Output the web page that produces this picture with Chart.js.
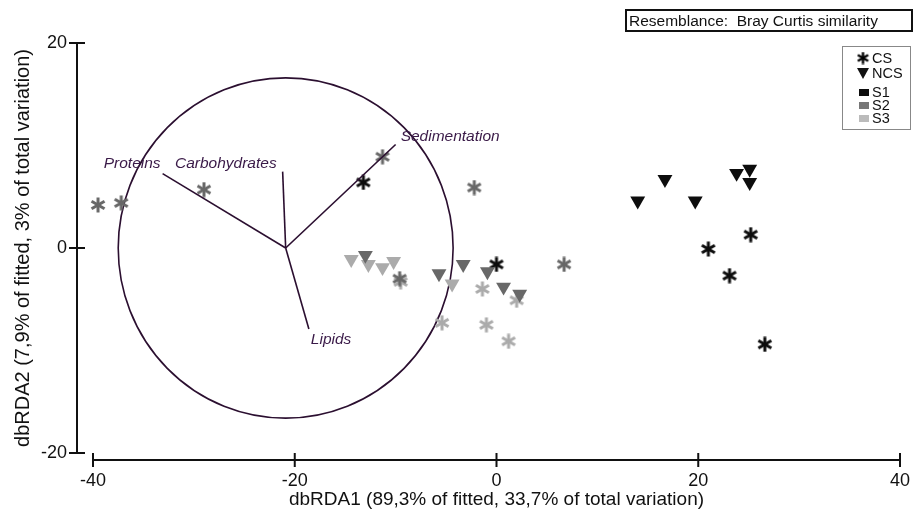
<!DOCTYPE html>
<html>
<head>
<meta charset="utf-8">
<script src="https://cdn.jsdelivr.net/npm/chart.js@4.4.1/dist/chart.umd.min.js"></script>
<style>
  html, body { margin: 0; padding: 0; background: #fff; }
  #wrap { width: 913px; height: 517px; position: relative; }
</style>
</head>
<body>
<div id="wrap"><canvas id="plot"></canvas></div>
<script>
// --- Data: [dbRDA1, dbRDA2] ---
const csS1 = [[-13.2, 6.4], [0.0, -1.6], [25.2, 1.3], [21.0, -0.1], [23.1, -2.7], [26.6, -9.4]];
const csS2 = [[-39.5, 4.2], [-37.2, 4.4], [-29.0, 5.7], [-11.3, 8.9], [-2.2, 5.9], [-9.6, -3.0], [6.7, -1.6]];
const csS3 = [[-9.5, -3.3], [2.0, -5.1], [-1.4, -4.0], [-5.4, -7.3], [-1.0, -7.5], [1.2, -9.1]];
const ncsS1 = [[14.0, 4.6], [16.7, 6.7], [19.7, 4.6], [23.8, 7.3], [25.1, 7.7], [25.1, 6.4]];
const ncsS2 = [[-13.0, -0.7], [-5.7, -2.5], [-3.3, -1.6], [-0.9, -2.3], [0.7, -3.8], [2.3, -4.5]];
const ncsS3 = [[-14.4, -1.1], [-12.7, -1.6], [-11.3, -1.9], [-10.2, -1.3], [-4.4, -3.5]];

// vector overlay (correlation circle)
const circleCentre = [-20.9, 0];
const circleRadius = 16.6;
const vectorNames = ['Proteins', 'Carbohydrates', 'Sedimentation', 'Lipids'];
const vectorX = [-33.1, -21.2, -10.0, -18.6];
const vectorY = [7.25, 7.45, 10.1, -7.9];

const xTicks = [-40, -20, 0, 20, 40];
const yTicks = [-20, 0, 20];
const legendLabels = ['CS', 'NCS', 'S1', 'S2', 'S3'];
const xTitle = 'dbRDA1 (89,3% of fitted, 33,7% of total variation)';
const yTitle = 'dbRDA2 (7,9% of fitted, 3% of total variation)';
const boxText = 'Resemblance:  Bray Curtis similarity';

// --- Styles ---
const FONT = "'Liberation Sans', Arial, sans-serif";
const COL = { s1: '#0d0d0d', s2: '#686868', s3: '#ababab', vec: '#2b0f30', vecText: '#3a1a48' };
const labelAlign = ['right', 'right', 'left', 'left'];
const labelDx = [-2, -6, 5, 2];
const labelDy = [-6, -4, -3, 15];

function makeAsterisk(color, size, lw) {
  const c = document.createElement('canvas');
  c.width = c.height = size;
  const g = c.getContext('2d');
  g.strokeStyle = color;
  g.lineWidth = lw;
  const m = size / 2, r = size / 2 - 0.5;
  for (let k = 0; k < 3; k++) {
    const a = Math.PI / 2 + k * Math.PI / 3;
    g.beginPath();
    g.moveTo(m + r * Math.cos(a), m - r * Math.sin(a));
    g.lineTo(m - r * Math.cos(a), m + r * Math.sin(a));
    g.stroke();
  }
  return c;
}

const toPts = arr => arr.map(([x, y]) => ({ x, y }));

function starSet(label, pts, color) {
  return { label, data: toPts(pts), pointStyle: makeAsterisk(color, 16, 3), pointRadius: 8, clip: false, showLine: false };
}
function triSet(label, pts, color) {
  return {
    label, data: toPts(pts), pointStyle: 'triangle', rotation: 180, pointRadius: 8.6,
    backgroundColor: color, borderColor: color, borderWidth: 0, clip: false, showLine: false,
  };
}

const vectorSets = vectorNames.map((name, i) => ({
  label: name,
  type: 'line',
  data: [{ x: circleCentre[0], y: circleCentre[1] }, { x: vectorX[i], y: vectorY[i] }],
  borderColor: COL.vec, borderWidth: 1.6, pointRadius: 0, fill: false, clip: false,
}));

// --- Overlay: circle, axes, vector labels, legend, resemblance box ---
const overlay = {
  id: 'overlay',
  beforeDatasetsDraw(chart) {
    const { ctx, scales: { x, y } } = chart;
    const cx = x.getPixelForValue(circleCentre[0]);
    const cy = y.getPixelForValue(circleCentre[1]);
    const rx = Math.abs(x.getPixelForValue(circleCentre[0] + circleRadius) - cx);
    const ry = Math.abs(y.getPixelForValue(circleCentre[1] + circleRadius) - cy);
    ctx.save();
    ctx.strokeStyle = COL.vec;
    ctx.lineWidth = 1.6;
    ctx.beginPath();
    ctx.ellipse(cx, cy, rx, ry, 0, 0, Math.PI * 2);
    ctx.stroke();
    ctx.restore();
  },
  afterDraw(chart) {
    const { ctx, chartArea: a, scales: { x, y } } = chart;
    ctx.save();
    // axes, offset from the plotting region as in the figure
    ctx.strokeStyle = '#111';
    ctx.lineWidth = 2;
    const ax = a.left - 16, ay = a.bottom + 7;
    ctx.beginPath();
    ctx.moveTo(ax, y.getPixelForValue(yTicks[0]));
    ctx.lineTo(ax, y.getPixelForValue(yTicks[yTicks.length - 1]));
    yTicks.forEach(v => { const p = y.getPixelForValue(v); ctx.moveTo(ax - 8, p); ctx.lineTo(ax + 8, p); });
    ctx.moveTo(x.getPixelForValue(xTicks[0]), ay);
    ctx.lineTo(x.getPixelForValue(xTicks[xTicks.length - 1]), ay);
    xTicks.forEach(v => { const p = x.getPixelForValue(v); ctx.moveTo(p, ay - 7); ctx.lineTo(p, ay + 7); });
    ctx.stroke();

    // vector labels
    ctx.fillStyle = COL.vecText;
    ctx.font = `italic 15.5px ${FONT}`;
    ctx.textBaseline = 'alphabetic';
    vectorNames.forEach((name, i) => {
      ctx.textAlign = labelAlign[i];
      ctx.fillText(name, x.getPixelForValue(vectorX[i]) + labelDx[i], y.getPixelForValue(vectorY[i]) + labelDy[i]);
    });

    // resemblance box
    ctx.strokeStyle = '#111';
    ctx.lineWidth = 2;
    ctx.strokeRect(626, 10, 286, 21);
    ctx.fillStyle = '#111';
    ctx.textAlign = 'left';
    ctx.font = `15.5px ${FONT}`;
    ctx.fillText(boxText, 629, 26);

    // legend
    ctx.strokeStyle = '#888';
    ctx.lineWidth = 1;
    ctx.strokeRect(842.5, 46.5, 68, 83);
    ctx.font = `14.5px ${FONT}`;
    ctx.fillStyle = '#111';
    const rows = [58, 73, 92, 105, 118];
    ctx.drawImage(makeAsterisk('#000', 13, 2.4), 856.5, rows[0] - 6.5);
    ctx.beginPath();
    ctx.moveTo(857, rows[1] - 5); ctx.lineTo(869, rows[1] - 5); ctx.lineTo(863, rows[1] + 6); ctx.closePath();
    ctx.fill();
    [COL.s1, '#777', '#bbb'].forEach((c, i) => { ctx.fillStyle = c; ctx.fillRect(859, rows[i + 2] - 3, 10, 7); });
    ctx.fillStyle = '#111';
    ctx.textBaseline = 'middle';
    legendLabels.forEach((t, i) => ctx.fillText(t, 872, rows[i] + 1));
    ctx.restore();
  },
};

new Chart(document.getElementById('plot'), {
  type: 'scatter',
  data: {
    datasets: [
      ...vectorSets,
      starSet('CS S2', csS2, COL.s2),
      triSet('NCS S2', ncsS2, COL.s2),
      triSet('NCS S3', ncsS3, COL.s3),
      starSet('CS S3', csS3, COL.s3),
      triSet('NCS S1', ncsS1, COL.s1),
      starSet('CS S1', csS1, COL.s1),
    ],
  },
  options: {
    responsive: true, maintainAspectRatio: false, animation: false, events: [],
    layout: { padding: { top: 43, right: 13, left: 0, bottom: 0 } },
    plugins: { legend: { display: false }, tooltip: { enabled: false } },
    scales: {
      x: {
        type: 'linear', min: -40, max: 40,
        afterBuildTicks: s => { s.ticks = xTicks.map(v => ({ value: v })); },
        afterFit: s => { s.height = 64; },
        grid: { display: false, drawTicks: true, tickLength: 17 }, border: { display: false },
        ticks: { color: '#111', font: { size: 18, family: FONT }, padding: 0, maxRotation: 0 },
        title: { display: true, text: xTitle, color: '#111', font: { size: 19, family: FONT }, padding: { top: 0, bottom: 6 } },
      },
      y: {
        type: 'linear', min: -20, max: 20,
        afterBuildTicks: s => { s.ticks = yTicks.map(v => ({ value: v })); },
        afterFit: s => { s.width = 93; },
        grid: { display: false, drawTicks: true, tickLength: 26 }, border: { display: false },
        ticks: { color: '#111', font: { size: 18, family: FONT }, padding: 0 },
        title: { display: true, text: yTitle, color: '#111', font: { size: 20, family: FONT }, padding: { top: 11, bottom: 0 } },
      },
    },
  },
  plugins: [overlay],
});
</script>
</body>
</html>
